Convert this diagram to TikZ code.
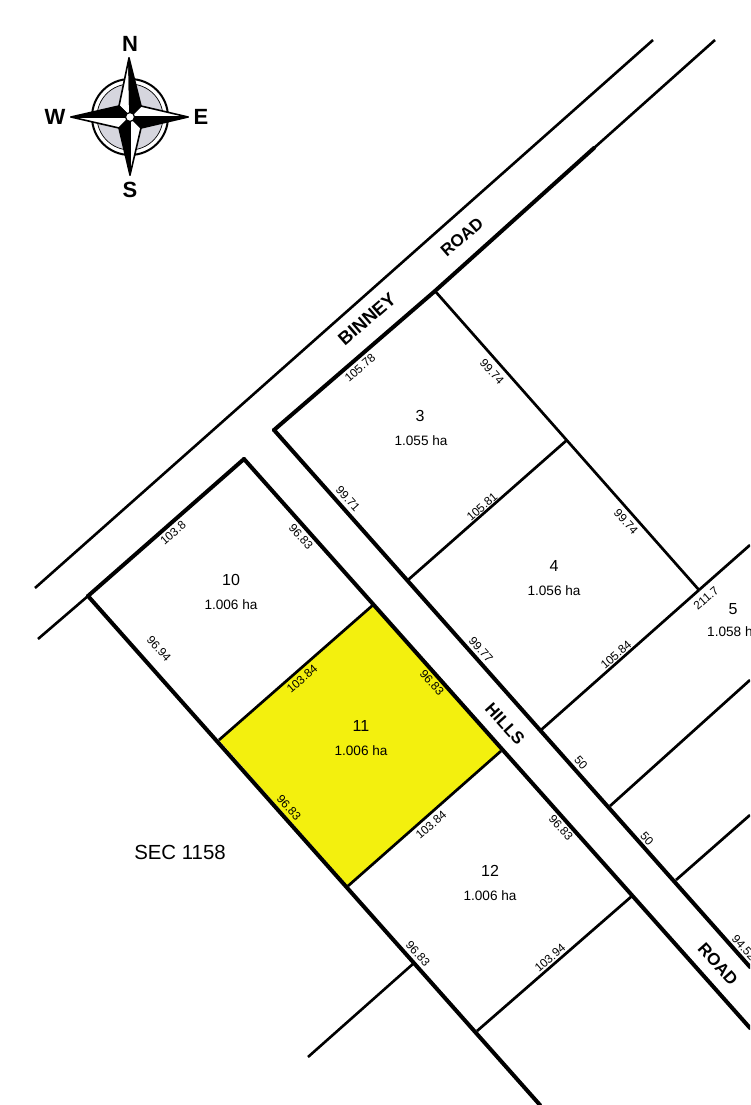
\documentclass[tikz,border=0pt]{standalone}
\usepackage{fontspec}
\setmainfont{Liberation Sans}
\definecolor{lotyellow}{RGB}{243,240,14}
\definecolor{discgray}{RGB}{214,214,222}

\begin{document}
\begin{tikzpicture}[x=1pt,y=-1pt]
    \tikzstyle{boundary}=[draw=black,line width=4pt,line cap=round]
    \tikzstyle{road}=[draw=black,line width=2.6pt]
    \tikzstyle{lotline}=[draw=black,line width=2.7pt]
    \tikzstyle{dim}=[font=\fontsize{11.8}{13}\selectfont,inner sep=0pt]
    \tikzstyle{lotno}=[font=\fontsize{16}{18}\selectfont,inner sep=0pt]
    \tikzstyle{area}=[font=\fontsize{13.6}{15}\selectfont,inner sep=0pt]
    \tikzstyle{roadname}=[font=\fontsize{17}{19}\selectfont\bfseries,inner sep=0pt]
    \tikzstyle{compassletter}=[font=\fontsize{22}{24}\selectfont\bfseries,inner sep=0pt]
    \tikzstyle{armdark}=[fill=black,draw=black,line width=1.6pt,line join=round]
    \tikzstyle{armlight}=[fill=white,draw=black,line width=1.6pt,line join=round]

    \def\up{41}
    \def\dn{-48}

    \useasboundingbox (0,0) rectangle (750,1105);
    \fill[white] (0,0) rectangle (750,1105);
    \clip (0,0) rectangle (750,1105);

    % corners of the lots
    \coordinate (a1) at (88,596);
    \coordinate (a2) at (219,740);
    \coordinate (a3) at (348,886);
    \coordinate (a4) at (477,1031);
    \coordinate (a5) at (540,1105);

    \coordinate (b1) at (244,459);
    \coordinate (b2) at (373,605);
    \coordinate (b3) at (501,751);
    \coordinate (b4) at (632,896);
    \coordinate (b5) at (750,1028);

    \coordinate (c1) at (274,430);
    \coordinate (c2) at (408,580);
    \coordinate (c3) at (541,730);
    \coordinate (c4) at (610,806);
    \coordinate (c5) at (676,880);
    \coordinate (c6) at (750,967);

    \coordinate (d1) at (435,291);
    \coordinate (d2) at (567,440);
    \coordinate (d3) at (699,590);

    % lot 11
    \fill[lotyellow] (a2) -- (b2) -- (b3) -- (a3) -- cycle;

    % roads
    \coordinate (r1) at (35,588);
    \coordinate (r2) at (653,40);
    \coordinate (r3) at (38,639);
    \coordinate (r4) at (594,148);
    \coordinate (r5) at (715,40);
    \coordinate (r6) at (308,1057);
    \coordinate (r7) at (414,963);
    \coordinate (r8) at (750,545);
    \coordinate (r9) at (750,680);
    \coordinate (r10) at (750,815);

    \path[road] (r1) -- (r2);
    \path[road] (r3) -- (a1);
    \path[road] (r4) -- (r5);
    \path[road] (r6) -- (r7);

    \path[boundary] (a1) -- (b1);
    \path[boundary] (c1) -- (d1) -- (r4);
    \path[boundary] (a1) -- (a5);
    \path[boundary] (b1) -- (b5);
    \path[boundary] (c1) -- (c6);

    \path[lotline] (d1) -- (d3);
    \path[lotline] (d2) -- (c2);
    \path[lotline] (d3) -- (c3);
    \path[lotline] (d3) -- (r8);
    \path[lotline] (c4) -- (r9);
    \path[lotline] (c5) -- (r10);
    \path[lotline] (b2) -- (a2);
    \path[lotline] (b3) -- (a3);
    \path[lotline] (b4) -- (a4);

    % road names
    \node[roadname,rotate=\up,font=\fontsize{18.4}{20}\selectfont\bfseries] (binney) at (367,319) {BINNEY};
    \node[roadname,rotate=\up] (road1)  at (462,237) {ROAD};
    \node[roadname,rotate=\dn] (hills)  at (505,724) {HILLS};
    \node[roadname,rotate=\dn] (road2)  at (718,964) {ROAD};

    % lot numbers and areas
    \node[lotno] (n3)  at (420,416) {3};
    \node[area]  (h3)  at (421,441) {1.055 ha};
    \node[lotno] (n4)  at (554,566) {4};
    \node[area]  (h4)  at (554,591) {1.056 ha};
    \node[lotno] (n5)  at (733,609) {5};
    \node[area,anchor=west] (h5) at (707,632) {1.058 ha};
    \node[lotno] (n10) at (231,580) {10};
    \node[area]  (h10) at (231,605) {1.006 ha};
    \node[lotno] (n11) at (361,726) {11};
    \node[area]  (h11) at (361,751) {1.006 ha};
    \node[lotno] (n12) at (490,871) {12};
    \node[area]  (h12) at (490,896) {1.006 ha};
    \node[font=\fontsize{20.4}{22}\selectfont,inner sep=0pt] (sec) at (180,852) {SEC 1158};

    % dimensions
    \node[dim,rotate=\up] (w3)  at (360,368) {105.78};
    \node[dim,rotate=\dn] (e3)  at (492,372) {99.74};
    \node[dim,rotate=\dn] (s3)  at (348,499) {99.71};
    \node[dim,rotate=\up] (w4)  at (482,507) {105.81};
    \node[dim,rotate=\dn] (e4)  at (626,522) {99.74};
    \node[dim,rotate=\dn] (s4)  at (481,650) {99.77};
    \node[dim,rotate=\up] (m4)  at (616,655) {105.84};
    \node[dim,rotate=\up] (t5)  at (706,598) {211.7};
    \node[dim,rotate=\up] (t10) at (173,533) {103.8};
    \node[dim,rotate=\dn] (e10) at (301,537) {96.83};
    \node[dim,rotate=\dn] (w10) at (159,649) {96.94};
    \node[dim,rotate=\up] (t11) at (302,679) {103.84};
    \node[dim,rotate=\dn] (e11) at (432,683) {96.83};
    \node[dim,rotate=\dn] (w11) at (289,808) {96.83};
    \node[dim,rotate=\up] (t12) at (431,825) {103.84};
    \node[dim,rotate=\dn] (e12) at (561,828) {96.83};
    \node[dim,rotate=\dn] (w12) at (418,954) {96.83};
    \node[dim,rotate=\up] (b12) at (550,958) {103.94};
    \node[dim,rotate=\dn] (f1)  at (581,763) {50};
    \node[dim,rotate=\dn] (f2)  at (647,839) {50};
    \node[dim,rotate=\dn] (f3)  at (744,948) {94.52};

    % compass
    \def\cx{130}
    \def\cy{117}
    \def\w{11}

    \coordinate (cc) at (\cx,\cy);
    \coordinate (cn) at (129,58);
    \coordinate (ce) at (188,117);
    \coordinate (cs) at (130,175);
    \coordinate (cw) at (71,117);
    \coordinate (wne) at (\cx+\w,\cy-\w);
    \coordinate (wse) at (\cx+\w,\cy+\w);
    \coordinate (wsw) at (\cx-\w,\cy+\w);
    \coordinate (wnw) at (\cx-\w,\cy-\w);

    \draw[line width=2pt,fill=white] (cc) circle (38);
    \draw[line width=0.7pt,fill=discgray] (cc) circle (33);

    \path[armlight] (cc) -- (wnw) -- (cn) -- cycle;
    \path[armdark]  (cc) -- (cn) -- (wne) -- cycle;
    \path[armlight] (cc) -- (wne) -- (ce) -- cycle;
    \path[armdark]  (cc) -- (ce) -- (wse) -- cycle;
    \path[armlight] (cc) -- (wse) -- (cs) -- cycle;
    \path[armdark]  (cc) -- (cs) -- (wsw) -- cycle;
    \path[armlight] (cc) -- (wsw) -- (cw) -- cycle;
    \path[armdark]  (cc) -- (cw) -- (wnw) -- cycle;
    \draw[line width=1.2pt,fill=white] (cc) circle (4.5);

    \node[compassletter] (north) at (130,44)  {N};
    \node[compassletter] (east)  at (201,117) {E};
    \node[compassletter] (south) at (130,190) {S};
    \node[compassletter] (west)  at (55,117)  {W};
\end{tikzpicture}
\end{document}
